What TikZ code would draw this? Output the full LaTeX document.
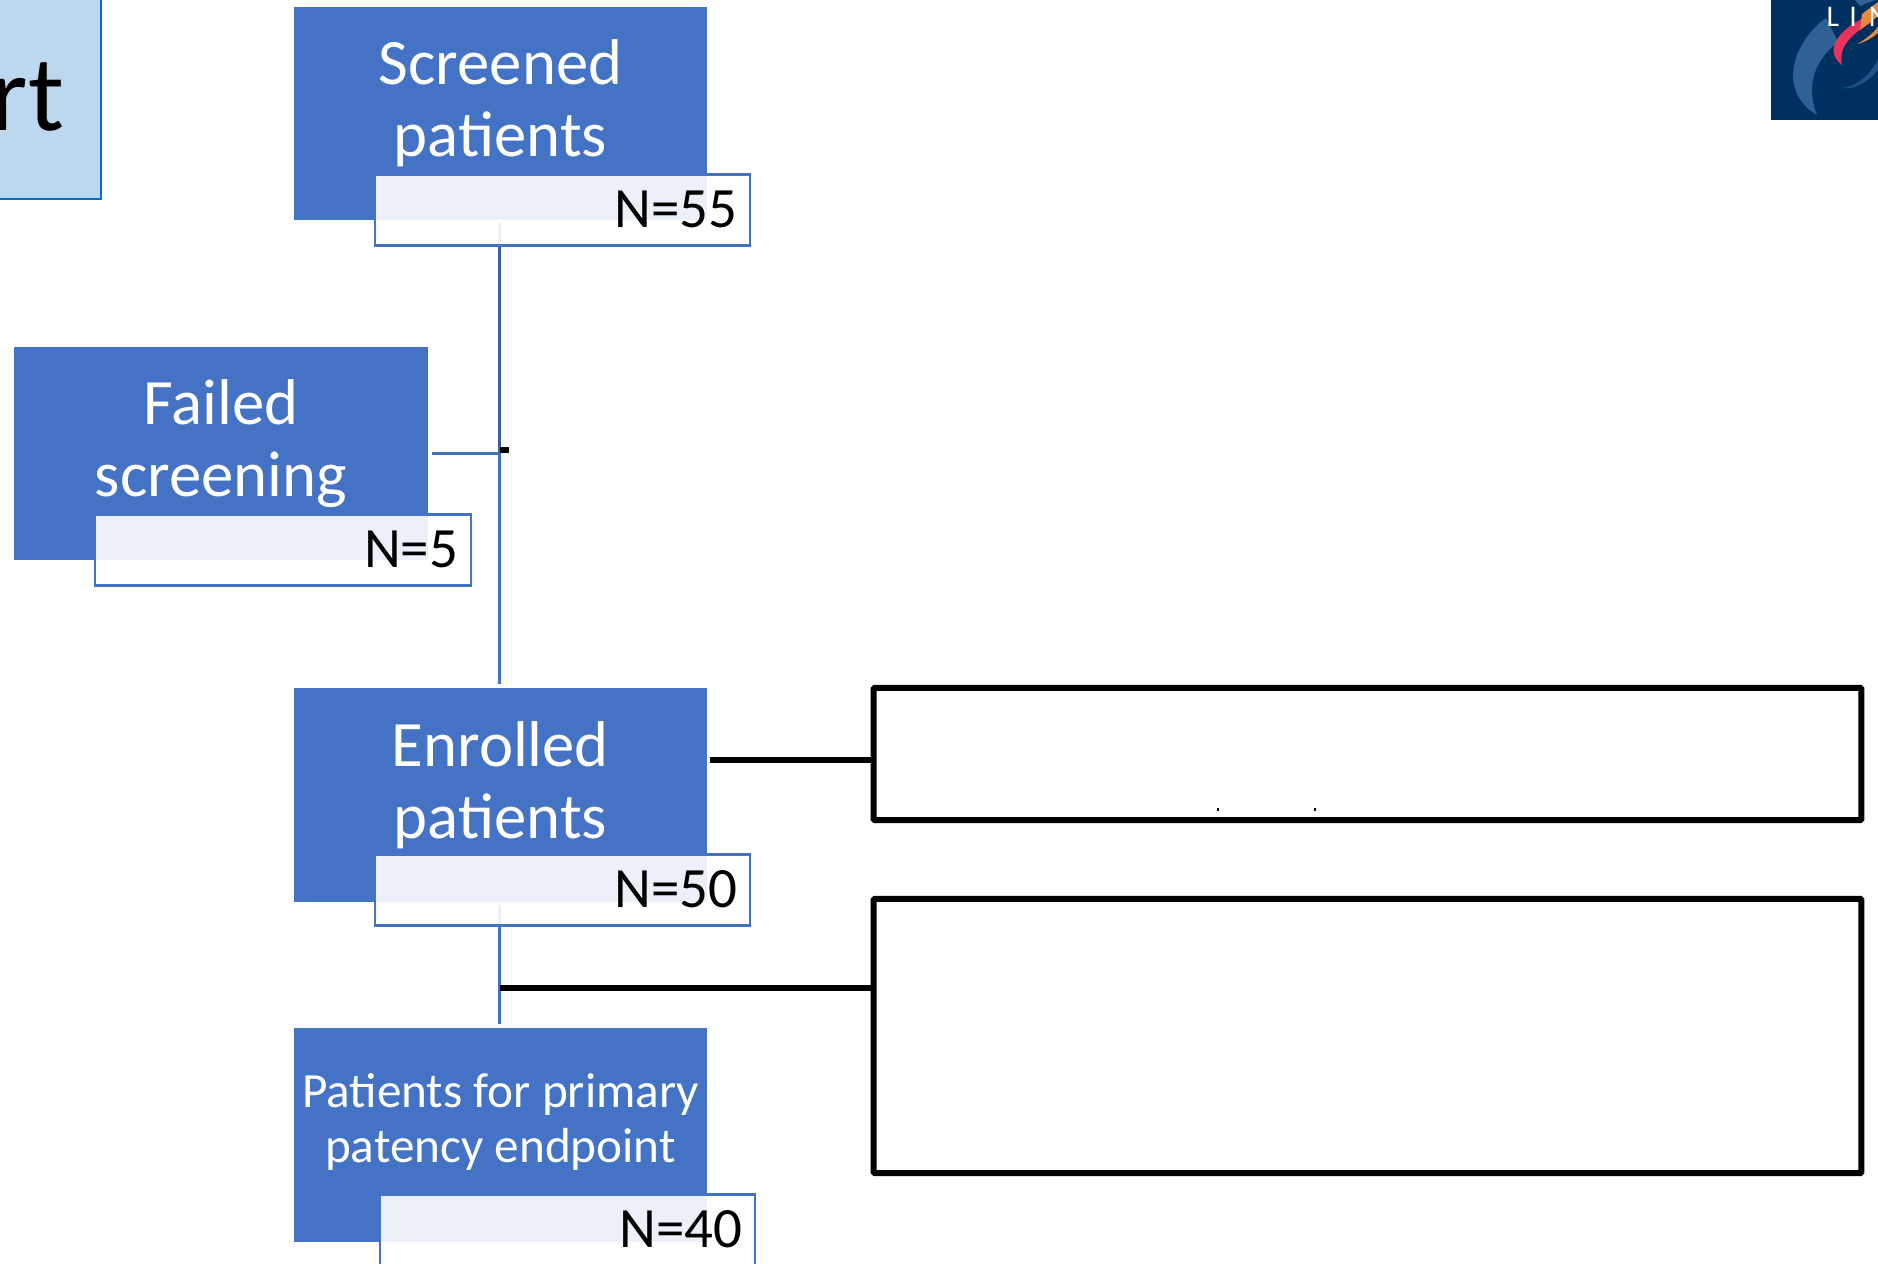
\documentclass[tikz,border=0pt]{standalone}
\usepackage{fontspec}
\setmainfont{Carlito}
\usetikzlibrary{calc}
\definecolor{boxblue}{HTML}{4472C4}
\definecolor{linedark}{HTML}{3A5F9E}
\definecolor{titlefill}{HTML}{BDD7EE}
\definecolor{titleline}{HTML}{0070C0}
\definecolor{logonavy}{HTML}{00305F}
\definecolor{logoswoosh}{HTML}{2F6195}
\definecolor{logored}{HTML}{E8345C}
\definecolor{logoorange}{HTML}{E98A38}
\tikzset{
	bluebox/.style={fill=boxblue, minimum width=4.135cm, minimum height=2.13cm, inner sep=0pt},
	boxtext/.style={text=white, align=center, inner sep=0pt, font=\fontsize{18.4}{20.5}\selectfont},
	smalltext/.style={text=white, align=center, inner sep=0pt, font=\fontsize{14}{15.7}\selectfont},
	countbox/.style={draw=boxblue, line width=0.022cm, fill=white, fill opacity=0.9, text opacity=1, minimum height=0.71cm, text width=3.5cm, align=right, inner xsep=0.125cm, inner ysep=0pt, text depth=0pt, font=\fontsize{16.2}{17}\selectfont},
	bluelink/.style={draw=boxblue, line width=0.025cm},
	darklink/.style={draw=linedark, line width=0.025cm},
	blacklink/.style={draw=black, line width=0.055cm},
	emptybox/.style={draw=black, line width=0.06cm, rounded corners=0.01cm, inner sep=0pt},
}
\begin{document}
\begin{tikzpicture}[x=0.01cm, y=-0.01cm]
		%%%%% START %%%%%
		\clip (0, 0) rectangle (1878, 1263);
		\fill[white] (0, 0) rectangle (1878, 1263);

		% title box, cut by the page
		\node[draw=titleline, line width=0.025cm, fill=titlefill, minimum width=1.2cm, minimum height=2.2cm, inner sep=0pt] (titlebox) at (41, 89) {};
		\node[anchor=base east, inner sep=0pt, font=\fontsize{30.5}{32}\selectfont] (titletext) at (65, 130) {rt};

		% logo, cut by the page
		\fill[logonavy] (1771, 0) rectangle (1878, 120);
		\fill[logoswoosh] (1826, 18) .. controls (1795, 40) and (1775, 90) .. (1817, 115) .. controls (1805, 85) and (1815, 60) .. (1838, 42) -- cycle;
		\fill[logoswoosh!70!logonavy] (1840, 88) .. controls (1855, 88) and (1870, 75) .. (1878, 60) -- (1878, 70) .. controls (1868, 82) and (1855, 90) .. (1840, 88) -- cycle;
		\fill[logoswoosh] (1855, 0) -- (1875, 0) -- (1860, 6) -- cycle;
		\fill[logored] (1868, 16) .. controls (1840, 28) and (1822, 50) .. (1842, 65) .. controls (1838, 48) and (1850, 34) .. (1874, 21) -- cycle;
		\fill[logoorange] (1862, 14) -- (1878, 2) -- (1878, 16) -- (1860, 30) -- cycle;
		\fill[logoorange] (1857, 44) .. controls (1865, 40) and (1872, 34) .. (1878, 27) -- (1878, 33) .. controls (1872, 38) and (1865, 42) .. (1857, 44) -- cycle;
		\node[anchor=base west, inner sep=0pt, text=white, font=\fontsize{8.5}{9}\selectfont] (logotext) at (1826, 26) {L\hspace{0.1cm}I\hspace{0.12cm}N};

		% blue boxes
		\node[bluebox] (screened) at (500.5, 113.5) {};
		\node[bluebox] (failed) at (221, 453.5) {};
		\node[bluebox] (enrolled) at (500.5, 795) {};
		\node[bluebox] (primary) at (500.5, 1135) {};

		\node[boxtext] (screenedtext) at ([yshift=0.1cm]screened) {Screened\\patients};
		\node[boxtext] (failedtext) at ([yshift=0.1cm]failed) {Failed\\screening};
		\node[boxtext] (enrolledtext) at ([yshift=0.1cm]enrolled) {Enrolled\\patients};
		\node[smalltext] (primarytext) at ([yshift=0.13cm]primary) {Patients for primary\\patency endpoint};

		% blue lines
		\coordinate (failjoin) at (499.5, 453.5);
		\draw[darklink, shorten <=0.03cm] (screened) ++(-1, 106.5) -- (failjoin);
		\draw[bluelink, shorten >=0.04cm] (failjoin) -- ($(enrolled.north)+(-1, 0)$);
		\draw[bluelink, shorten <=0.03cm] (failed.east) -- (failjoin);
		\draw[bluelink, shorten <=0.03cm, shorten >=0.04cm] ($(enrolled.south)+(-1, 0)$) -- ($(primary.north)+(-1, 0)$);

		% count boxes
		\node[countbox] (screenedcount) at (562.5, 210) {\raisebox{0.02cm}{N=55}};
		\node[countbox] (failedcount) at (283, 550) {\raisebox{0.02cm}{N=5}};
		\node[countbox] (enrolledcount) at (562.5, 890) {\raisebox{0.02cm}{N=50}};
		\node[countbox] (primarycount) at (567.5, 1230) {\raisebox{0.02cm}{N=40}};

		% black boxes
		\node[emptybox, minimum width=9.87cm, minimum height=1.32cm] (reasonsA) at (1367.5, 754) {};
		\node[emptybox, minimum width=9.87cm, minimum height=2.74cm] (reasonsB) at (1367.5, 1036) {};
		\coordinate (enrolledout) at ($(enrolled.east |- 0, 760)+(2, 0)$);
		\coordinate (branch) at (499.5, 988);
		\coordinate (tickstart) at (499.5, 450);
		\coordinate (tickend) at (509, 450);
		\draw[blacklink] (enrolledout) -- (enrolledout -| reasonsA.west);
		\draw[blacklink] (branch) -- (branch -| reasonsB.west);
		\draw[blacklink] (tickstart) -- (tickend);

		% two specks inside the upper black box
		\fill (1217, 808) rectangle (1219, 811);
		\fill (1314, 808) rectangle (1316, 811);
		%%%%% END %%%%%
	\end{tikzpicture}
\end{document}
